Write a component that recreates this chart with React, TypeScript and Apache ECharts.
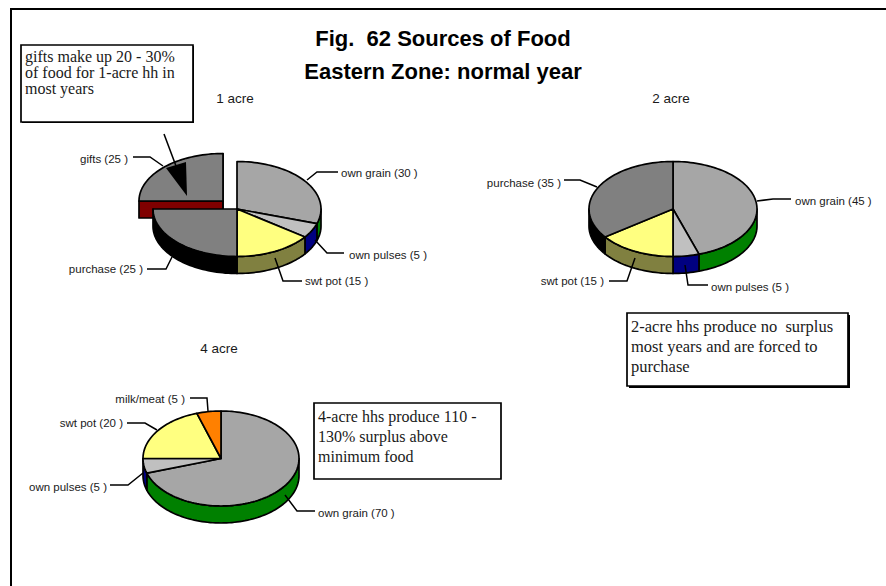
import React, { useEffect, useRef } from "react";
import * as echarts from "echarts";

const titleLines = ["Fig.  62 Sources of Food", "Eastern Zone: normal year"];
const pieTitles = ["1 acre", "2 acre", "4 acre"];

const names1 = ["own grain", "own pulses", "swt pot", "purchase", "gifts"];
const values1 = [30, 5, 15, 25, 25];
const names2 = ["own grain", "own pulses", "swt pot", "purchase"];
const values2 = [45, 5, 15, 35];
const names3 = ["own grain", "own pulses", "swt pot", "milk/meat"];
const values3 = [70, 5, 20, 5];

const notes1 = ["gifts make up 20 - 30%", "of food for 1-acre hh in", "most years"];
const notes2 = ["2-acre hhs produce no  surplus", "most years and are forced to", "purchase"];
const notes3 = ["4-acre hhs produce 110 -", "130% surplus above", "minimum food"];

const topColors: Record<string, string> = {
  "own grain": "#A6A6A6",
  "own pulses": "#C0C0C0",
  "swt pot": "#FFFF80",
  purchase: "#808080",
  gifts: "#808080",
  "milk/meat": "#FF8000",
};
const sideColors: Record<string, string> = {
  "own grain": "#008000",
  "own pulses": "#000080",
  "swt pot": "#808040",
  purchase: "#000000",
  gifts: "#800000",
  "milk/meat": "#804000",
};

const SANS = '"Liberation Sans", Arial, sans-serif';
const SERIF = '"Liberation Serif", "Times New Roman", serif';
const DEPTH = 17;

type PieCfg = {
  names: string[];
  values: number[];
  cx: number;
  cy: number;
  rx: number;
  ry: number;
  explode?: Record<string, [number, number]>;
};

const pies: PieCfg[] = [
  { names: names1, values: values1, cx: 237, cy: 209, rx: 84, ry: 47.5, explode: { gifts: [-14, -8] } },
  { names: names2, values: values2, cx: 673, cy: 209, rx: 84, ry: 47.5 },
  { names: names3, values: values3, cx: 221, cy: 458.5, rx: 78, ry: 47.5 },
];

// leader layouts, in slice order: polyline, then text anchor
type Lead = { pts: number[][]; x: number; y: number; align: "left" | "right" };
const leads: Lead[][] = [
  [
    { pts: [[307, 180], [317, 172], [338, 172]], x: 341, y: 173, align: "left" },
    { pts: [[315, 240], [327, 253], [344, 253]], x: 349, y: 255, align: "left" },
    { pts: [[275, 258], [283, 281], [302, 281]], x: 305, y: 281, align: "left" },
    { pts: [[172, 257], [166, 269], [147, 269]], x: 143, y: 269, align: "right" },
    { pts: [[163, 166], [150, 157], [133, 157]], x: 128, y: 159, align: "right" },
  ],
  [
    { pts: [[757, 201], [773, 199], [791, 199]], x: 795, y: 201, align: "left" },
    { pts: [[685, 265], [688, 285], [708, 285]], x: 711, y: 287, align: "left" },
    { pts: [[635, 258], [627, 281], [609, 281]], x: 604, y: 281, align: "right" },
    { pts: [[597, 187], [580, 180], [564, 180]], x: 561, y: 183, align: "right" },
  ],
  [
    { pts: [[285, 495], [297, 511], [315, 511]], x: 318, y: 513, align: "left" },
    { pts: [[143, 473], [128, 485], [110, 485]], x: 107, y: 487, align: "right" },
    { pts: [[157, 430], [145, 423], [127, 423]], x: 123, y: 423, align: "right" },
    { pts: [[208, 411], [207, 398], [190, 398]], x: 185, y: 399, align: "right" },
  ],
];

function pieSeries(cfg: PieCfg) {
  const total = cfg.values.reduce((a, b) => a + b, 0);
  let acc = 0;
  const slices = cfg.values.map((v, i) => {
    const a0 = (acc / total) * 360;
    acc += v;
    return { name: cfg.names[i], value: v, a0, a1: (acc / total) * 360 };
  });
  // exploded wedges are painted first, the remaining ones over them
  const ordered = [...slices].sort(
    (a, b) => Number(!!cfg.explode?.[a.name]) * -1 + Number(!!cfg.explode?.[b.name])
  );
  return {
    type: "custom",
    coordinateSystem: "none",
    silent: true,
    clip: false,
    data: ordered.map((s) => ({ name: s.name, value: [s.value, s.a0, s.a1] })),
    renderItem: (params: any, api: any) => {
      const s = ordered[params.dataIndex];
      const a0 = api.value(1);
      const a1 = api.value(2);
      const off = cfg.explode?.[s.name] ?? [0, 0];
      const cx = cfg.cx + off[0];
      const cy = cfg.cy + off[1];
      const pt = (deg: number, dy = 0) => {
        const r = (deg * Math.PI) / 180;
        return [cx + cfg.rx * Math.sin(r), cy - cfg.ry * Math.cos(r) + dy];
      };
      const arc = (from: number, to: number, dy = 0) => {
        const out: number[][] = [];
        const n = Math.max(2, Math.ceil((to - from) / 2));
        for (let k = 0; k <= n; k++) out.push(pt(from + ((to - from) * k) / n, dy));
        return out;
      };
      const stroke = { stroke: "#000", lineWidth: 1.7, lineJoin: "round" };
      const side = sideColors[s.name];
      const children: any[] = [];
      if (cfg.explode?.[s.name]) {
        [a0, a1].forEach((a) => {
          const e = pt(a);
          children.push({
            type: "polygon",
            shape: { points: [[cx, cy], e, [e[0], e[1] + DEPTH], [cx, cy + DEPTH]] },
            style: { fill: side, ...stroke },
          });
        });
      }
      const w0 = Math.max(a0, 90);
      const w1 = Math.min(a1, 270);
      if (w1 > w0) {
        children.push({
          type: "polygon",
          shape: { points: [...arc(w0, w1), ...arc(w0, w1, DEPTH).reverse()] },
          style: { fill: side, ...stroke },
        });
      }
      children.push({
        type: "polygon",
        shape: { points: [[cx, cy], ...arc(a0, a1)] },
        style: { fill: topColors[s.name], ...stroke },
      });
      return { type: "group", children };
    },
  };
}

function noteBox(x: number, y: number, w: number, h: number, shadow: number, lines: string[], size: number, lh: number, tx: number, ty: number) {
  const els: any[] = [];
  if (shadow > 0) {
    els.push({ type: "rect", z: 50, silent: true, shape: { x: x + shadow, y: y + shadow, width: w, height: h }, style: { fill: "#000" } });
  }
  els.push({ type: "rect", z: 51, silent: true, shape: { x, y, width: w, height: h }, style: { fill: "#fff", stroke: "#000", lineWidth: 1.7 } });
  lines.forEach((t, i) => {
    els.push({
      type: "text", z: 52, silent: true, x: tx, y: ty + i * lh,
      style: { text: t, fill: "#1a1a1a", font: `${size}px ${SERIF}`, textAlign: "left", textVerticalAlign: "middle" },
    });
  });
  return els;
}

function leaderElements() {
  const els: any[] = [];
  leads.forEach((group, p) => {
    group.forEach((l, i) => {
      els.push({ type: "polyline", z: 40, silent: true, shape: { points: l.pts }, style: { stroke: "#000", lineWidth: 1.5, fill: "none" } });
      els.push({
        type: "text", z: 41, silent: true, x: l.x, y: l.y,
        style: {
          text: `${pies[p].names[i]} (${pies[p].values[i]} )`,
          fill: "#1a1a1a", font: `11.5px ${SANS}`, textAlign: l.align, textVerticalAlign: "middle",
        },
      });
    });
  });
  return els;
}

const bigTitle = { fontFamily: SANS, fontSize: 22, fontWeight: "bold", color: "#000" };
const smallTitle = { fontFamily: SANS, fontSize: 13.5, fontWeight: "normal", color: "#1a1a1a" };

export default function App() {
  const ref = useRef<HTMLDivElement>(null);
  useEffect(() => {
    document.body.style.margin = "0";
    const chart = echarts.init(ref.current!, undefined, { renderer: "svg" });
    chart.setOption({
      animation: false,
      backgroundColor: "#fff",
      title: [
        { text: titleLines[0], left: 438, top: 22, textAlign: "center", textStyle: bigTitle },
        { text: titleLines[1], left: 438, top: 55, textAlign: "center", textStyle: bigTitle },
        { text: pieTitles[0], left: 230, top: 86, textAlign: "center", textStyle: smallTitle },
        { text: pieTitles[1], left: 666, top: 86, textAlign: "center", textStyle: smallTitle },
        { text: pieTitles[2], left: 214, top: 336, textAlign: "center", textStyle: smallTitle },
      ],
      series: pies.map(pieSeries),
      graphic: [
        { type: "line", z: 60, silent: true, shape: { x1: 11, y1: 9, x2: 886, y2: 9 }, style: { stroke: "#000", lineWidth: 2 } },
        { type: "line", z: 60, silent: true, shape: { x1: 11, y1: 8, x2: 11, y2: 586 }, style: { stroke: "#000", lineWidth: 2 } },
        ...noteBox(21, 45, 172, 77, 1, notes1, 16, 16, 25, 56),
        ...noteBox(627, 313, 221, 73, 2, notes2, 16.5, 20, 631, 326),
        ...noteBox(314, 403, 187, 76, 0, notes3, 16, 20, 318, 416),
        ...leaderElements(),
        { type: "line", z: 42, silent: true, shape: { x1: 164, y1: 134, x2: 176, y2: 166 }, style: { stroke: "#000", lineWidth: 1.5 } },
        { type: "polygon", z: 42, silent: true, shape: { points: [[166, 168], [186, 162], [187, 196]] }, style: { fill: "#000" } },
      ],
    });
    return () => chart.dispose();
  }, []);
  return <div ref={ref} style={{ position: "absolute", left: 0, top: 0, width: 886, height: 586 }} />;
}
